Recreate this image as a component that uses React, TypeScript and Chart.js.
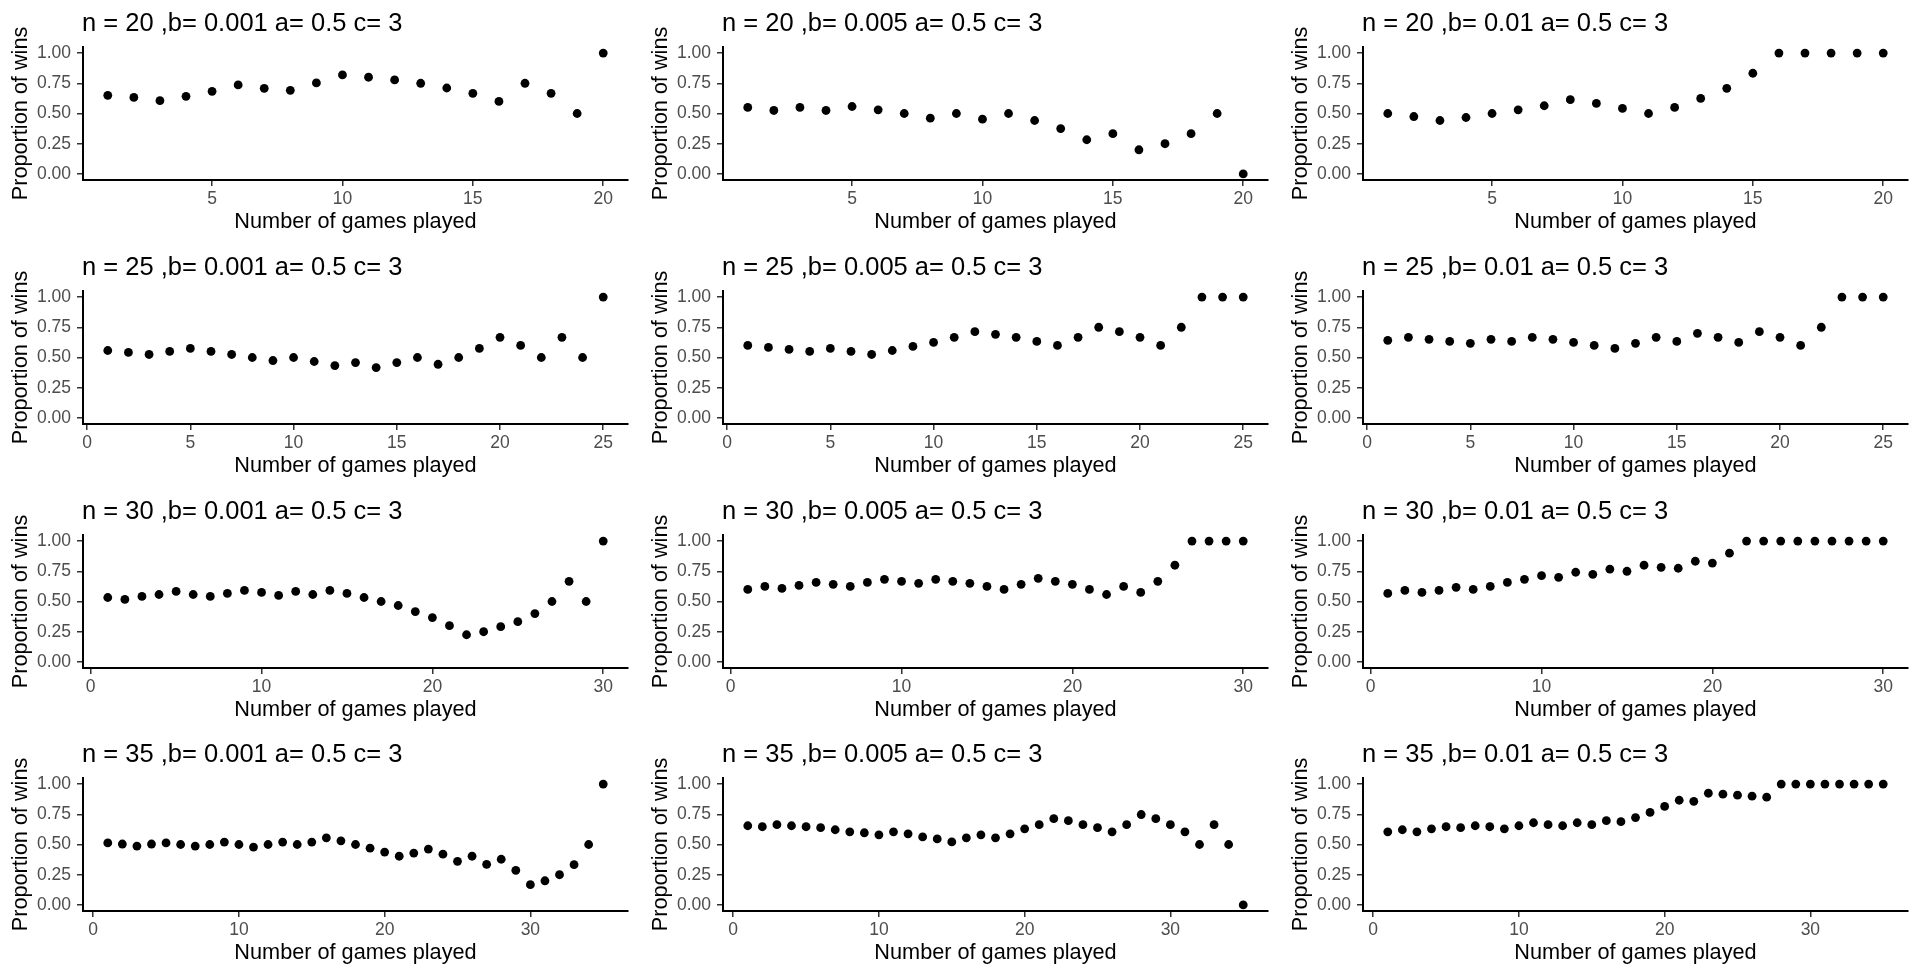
import React, { useEffect, useRef } from "react";
import { Chart, registerables } from "chart.js";

Chart.register(...registerables);

const GAMES = [1, 2, 3, 4, 5, 6, 7, 8, 9, 10, 11, 12, 13, 14, 15, 16, 17, 18, 19, 20, 21, 22, 23, 24, 25, 26, 27, 28, 29, 30, 31, 32, 33, 34, 35];

const X_TICKS_20 = [5, 10, 15, 20];
const X_TICKS_25 = [0, 5, 10, 15, 20, 25];
const X_TICKS_30 = [0, 10, 20, 30];
const X_TICKS_35 = [0, 10, 20, 30];
const Y_TICKS = [0, 0.25, 0.5, 0.75, 1];

const P20_001 = [0.65, 0.633, 0.606, 0.642, 0.683, 0.736, 0.708, 0.692, 0.753, 0.819, 0.8, 0.778, 0.75, 0.711, 0.667, 0.6, 0.75, 0.667, 0.5, 1.0];
const P20_005 = [0.55, 0.525, 0.55, 0.525, 0.558, 0.53, 0.5, 0.461, 0.5, 0.453, 0.5, 0.442, 0.375, 0.283, 0.333, 0.2, 0.25, 0.333, 0.5, 0];
const P20_01 = [0.5, 0.475, 0.442, 0.467, 0.5, 0.53, 0.564, 0.614, 0.583, 0.542, 0.5, 0.55, 0.625, 0.708, 0.833, 1, 1, 1, 1, 1];

const P25_001 = [0.558, 0.542, 0.525, 0.55, 0.575, 0.55, 0.525, 0.5, 0.475, 0.5, 0.467, 0.433, 0.458, 0.417, 0.458, 0.5, 0.444, 0.5, 0.575, 0.667, 0.6, 0.5, 0.667, 0.5, 1];
const P25_005 = [0.6, 0.583, 0.567, 0.55, 0.575, 0.55, 0.525, 0.558, 0.592, 0.625, 0.667, 0.714, 0.692, 0.667, 0.633, 0.6, 0.667, 0.75, 0.714, 0.667, 0.6, 0.75, 1, 1, 1];
const P25_01 = [0.642, 0.667, 0.65, 0.633, 0.617, 0.65, 0.633, 0.667, 0.65, 0.625, 0.6, 0.575, 0.617, 0.667, 0.633, 0.7, 0.667, 0.625, 0.714, 0.667, 0.6, 0.75, 1, 1, 1];

const P30_001 = [0.533, 0.517, 0.542, 0.558, 0.583, 0.558, 0.542, 0.567, 0.592, 0.575, 0.55, 0.583, 0.558, 0.592, 0.567, 0.533, 0.5, 0.467, 0.417, 0.367, 0.3, 0.225, 0.25, 0.292, 0.333, 0.4, 0.5, 0.667, 0.5, 1];
const P30_005 = [0.6, 0.625, 0.608, 0.633, 0.658, 0.642, 0.625, 0.658, 0.683, 0.667, 0.65, 0.683, 0.667, 0.65, 0.625, 0.6, 0.642, 0.692, 0.667, 0.642, 0.6, 0.558, 0.625, 0.575, 0.667, 0.8, 1, 1, 1, 1];
const P30_01 = [0.567, 0.592, 0.575, 0.592, 0.617, 0.6, 0.625, 0.658, 0.683, 0.714, 0.7, 0.742, 0.725, 0.767, 0.75, 0.8, 0.783, 0.775, 0.833, 0.818, 0.9, 1, 1, 1, 1, 1, 1, 1, 1, 1];

const P35_001 = [0.513, 0.504, 0.487, 0.504, 0.513, 0.5, 0.487, 0.5, 0.52, 0.5, 0.479, 0.5, 0.52, 0.5, 0.52, 0.555, 0.53, 0.5, 0.47, 0.437, 0.403, 0.429, 0.462, 0.42, 0.361, 0.403, 0.336, 0.378, 0.286, 0.168, 0.2, 0.25, 0.333, 0.5, 1];
const P35_005 = [0.655, 0.647, 0.664, 0.655, 0.647, 0.639, 0.622, 0.605, 0.597, 0.58, 0.605, 0.588, 0.563, 0.546, 0.521, 0.555, 0.58, 0.555, 0.588, 0.63, 0.664, 0.714, 0.697, 0.664, 0.639, 0.605, 0.664, 0.748, 0.714, 0.664, 0.605, 0.5, 0.664, 0.5, 0];
const P35_01 = [0.605, 0.622, 0.605, 0.63, 0.647, 0.639, 0.655, 0.647, 0.63, 0.655, 0.68, 0.664, 0.655, 0.68, 0.664, 0.697, 0.689, 0.723, 0.765, 0.815, 0.866, 0.857, 0.924, 0.916, 0.908, 0.9, 0.891, 1, 1, 1, 1, 1, 1, 1, 1];

const TITLES = [
  "n = 20 ,b= 0.001 a= 0.5 c= 3",
  "n = 20 ,b= 0.005 a= 0.5 c= 3",
  "n = 20 ,b= 0.01 a= 0.5 c= 3",
  "n = 25 ,b= 0.001 a= 0.5 c= 3",
  "n = 25 ,b= 0.005 a= 0.5 c= 3",
  "n = 25 ,b= 0.01 a= 0.5 c= 3",
  "n = 30 ,b= 0.001 a= 0.5 c= 3",
  "n = 30 ,b= 0.005 a= 0.5 c= 3",
  "n = 30 ,b= 0.01 a= 0.5 c= 3",
  "n = 35 ,b= 0.001 a= 0.5 c= 3",
  "n = 35 ,b= 0.005 a= 0.5 c= 3",
  "n = 35 ,b= 0.01 a= 0.5 c= 3",
];

const PANELS = [
  { title: TITLES[0], values: P20_001, xTicks: X_TICKS_20 },
  { title: TITLES[1], values: P20_005, xTicks: X_TICKS_20 },
  { title: TITLES[2], values: P20_01, xTicks: X_TICKS_20 },
  { title: TITLES[3], values: P25_001, xTicks: X_TICKS_25 },
  { title: TITLES[4], values: P25_005, xTicks: X_TICKS_25 },
  { title: TITLES[5], values: P25_01, xTicks: X_TICKS_25 },
  { title: TITLES[6], values: P30_001, xTicks: X_TICKS_30 },
  { title: TITLES[7], values: P30_005, xTicks: X_TICKS_30 },
  { title: TITLES[8], values: P30_01, xTicks: X_TICKS_30 },
  { title: TITLES[9], values: P35_001, xTicks: X_TICKS_35 },
  { title: TITLES[10], values: P35_005, xTicks: X_TICKS_35 },
  { title: TITLES[11], values: P35_01, xTicks: X_TICKS_35 },
];

const FONT = "'Liberation Sans', Arial, sans-serif";
const CELL_W = 640;
const CELL_H = 244;

const panelTitlePlugin = {
  id: "panelTitle",
  afterDraw(chart: any, _args: any, opts: any) {
    const ctx = chart.ctx;
    ctx.save();
    ctx.font = `25.5px ${FONT}`;
    ctx.fillStyle = "#000000";
    ctx.textAlign = "left";
    ctx.textBaseline = "middle";
    ctx.fillText(opts.text, chart.chartArea.left - 1, 23.5);
    ctx.restore();
  },
};

function Panel({ title, values, xTicks }: { title: string; values: number[]; xTicks: number[] }) {
  const ref = useRef<HTMLCanvasElement | null>(null);
  useEffect(() => {
    if (!ref.current) return;
    const n = values.length;
    const pad = 0.05 * (n - 1);
    const data = values.map((v, i) => ({ x: GAMES[i], y: v }));
    const chart = new Chart(ref.current, {
      type: "scatter",
      data: {
        datasets: [
          {
            data,
            pointRadius: 4.4,
            pointHoverRadius: 4.4,
            pointBackgroundColor: "#000000",
            pointBorderColor: "#000000",
            pointBorderWidth: 0,
          },
        ],
      },
      options: {
        responsive: false,
        animation: false,
        events: [],
        layout: { padding: { left: 0, right: 12, top: 47, bottom: 0 } },
        plugins: {
          legend: { display: false },
          tooltip: { enabled: false },
          title: { display: false },
          panelTitle: { text: title },
        } as any,
        scales: {
          x: {
            type: "linear",
            min: 1 - pad,
            max: n + pad,
            afterBuildTicks: (scale: any) => {
              scale.ticks = xTicks.map((v) => ({ value: v }));
            },
            afterFit: (scale: any) => {
              scale.height = 64;
            },
            grid: { drawOnChartArea: false, drawTicks: true, tickLength: 6, color: "#333333", lineWidth: 1.5 },
            border: { display: true, color: "#000000", width: 2 },
            ticks: {
              color: "#4D4D4D",
              font: { family: FONT, size: 17.5 },
              padding: 3,
              maxRotation: 0,
              autoSkip: false,
              callback: (v: any) => String(v),
            },
            title: {
              display: true,
              text: "Number of games played",
              color: "#000000",
              font: { family: FONT, size: 21.7 },
              padding: { top: 0, bottom: 9 },
            },
          },
          y: {
            type: "linear",
            min: -0.05,
            max: 1.05,
            afterBuildTicks: (scale: any) => {
              scale.ticks = Y_TICKS.map((v) => ({ value: v }));
            },
            afterFit: (scale: any) => {
              scale.width = 83;
            },
            grid: { drawOnChartArea: false, drawTicks: true, tickLength: 6, color: "#333333", lineWidth: 1.5 },
            border: { display: true, color: "#000000", width: 2 },
            ticks: {
              color: "#4D4D4D",
              font: { family: FONT, size: 17.5 },
              padding: 6,
              autoSkip: false,
              callback: (v: any) => Number(v).toFixed(2),
            },
            title: {
              display: true,
              text: "Proportion of wins",
              color: "#000000",
              font: { family: FONT, size: 21.7 },
              padding: { top: 8, bottom: 0 },
            },
          },
        },
      },
      plugins: [panelTitlePlugin],
    } as any);
    return () => chart.destroy();
  }, [title, values, xTicks]);
  return <canvas ref={ref} width={CELL_W} height={CELL_H} style={{ width: CELL_W, height: CELL_H, display: "block" }} />;
}

export default function App() {
  return (
    <div style={{ position: "absolute", left: 0, top: 0, width: 1920, height: 975, background: "#ffffff", overflow: "hidden" }}>
      {PANELS.map((p, i) => {
        const r = Math.floor(i / 3);
        const c = i % 3;
        return (
          <div key={i} style={{ position: "absolute", left: c * CELL_W, top: Math.round(r * 243.75), width: CELL_W, height: CELL_H }}>
            <Panel title={p.title} values={p.values} xTicks={p.xTicks} />
          </div>
        );
      })}
    </div>
  );
}
